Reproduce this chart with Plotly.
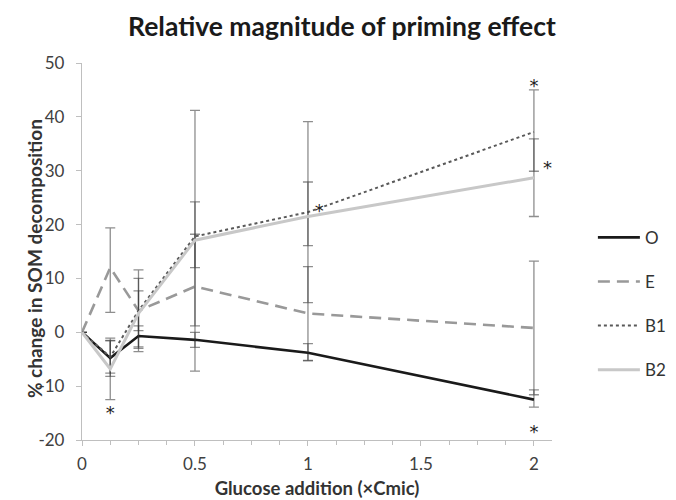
import plotly.graph_objects as go

# Data
x_vals = [0, 0.125, 0.25, 0.5, 1, 2]
series_names = ["O", "E", "B1", "B2"]
O_vals = [0, -4.8, -0.7, -1.4, -3.8, -12.5]
E_vals = [0, 12.0, 4.0, 8.5, 3.5, 0.8]
B1_vals = [0, -4.6, 4.0, 17.8, 22.3, 37.2]
B2_vals = [0, -6.8, 3.5, 17.1, 21.5, 28.7]

O_err_plus = [0, 3.3, 1.9, 1.4, 1.7, 1.8]
O_err_minus = [0, 3.4, 2.0, 1.4, 1.5, 1.4]
E_err_plus = [0, 7.4, 3.7, 15.7, 8.7, 12.4]
E_err_minus = [0, 8.3, 3.7, 15.7, 8.7, 12.4]
B1_err_plus = [0, 3.0, 7.6, 23.4, 16.8, 7.8]
B1_err_minus = [0, 3.0, 7.6, 5.8, 16.8, 7.3]
B2_err_plus = [0, 5.7, 6.5, 1.1, 6.4, 7.2]
B2_err_minus = [0, 5.7, 6.5, 15.9, 5.4, 7.2]

y_tickvals = [-20, -10, 0, 10, 20, 30, 40, 50]
y_ticktext = ["-20", "-10", "0", "10", "20", "30", "40", "50"]
x_tickvals = [0, 0.5, 1, 1.5, 2]
x_ticktext = ["0", "0.5", "1", "1.5", "2"]

# significance markers
star_x = [0.125, 1.05, 2.0, 2.06, 2.0]
star_y = [-15.2, 22.2, 45.5, 30.2, -18.8]

colors = ["#1a1a1a", "#999999", "#595959", "#c8c8c8"]
dashes = ["solid", "12px,7px", "dot", "solid"]
widths = [2.6, 2.6, 2.0, 3.0]
vals = [O_vals, E_vals, B1_vals, B2_vals]
eplus = [O_err_plus, E_err_plus, B1_err_plus, B2_err_plus]
eminus = [O_err_minus, E_err_minus, B1_err_minus, B2_err_minus]

fig = go.Figure()
for i, name in enumerate(series_names):
    fig.add_trace(go.Scatter(
        x=x_vals, y=vals[i], name=name, mode="lines",
        line=dict(color=colors[i], dash=dashes[i], width=widths[i]),
        error_y=dict(type="data", symmetric=False, array=eplus[i], arrayminus=eminus[i],
                     color="rgba(50,50,50,0.55)", thickness=1.3, width=5),
        legendgroup=name,
    ))

fig.add_trace(go.Scatter(
    x=star_x, y=star_y, mode="text", text=["*"] * len(star_x),
    textfont=dict(size=18, color="#222222", family="DejaVu Sans"),
    showlegend=False, hoverinfo="skip",
))

fig.update_layout(
    width=676, height=500,
    paper_bgcolor="white", plot_bgcolor="white",
    margin=dict(l=74, r=132, t=55, b=68),
    font=dict(family="Lato, Open Sans, sans-serif", color="#404040", size=16),
    title=dict(text="<b>Relative magnitude of priming effect</b>",
               x=0.494, xanchor="center", y=0.962, yanchor="middle",
               font=dict(size=26.5, color="#1a1a1a", family="Lato")),
    showlegend=True,
    legend=dict(x=1.087, xanchor="left", y=0.584, yanchor="top",
                traceorder="grouped", tracegroupgap=19, itemwidth=42,
                font=dict(size=17, color="#333333"),
                bgcolor="rgba(0,0,0,0)"),
    xaxis=dict(range=[0, 2.08], tickvals=x_tickvals, ticktext=x_ticktext,
               ticks="outside", ticklen=5, tickcolor="#bfbfbf",
               ticklabelstandoff=3,
               minor=dict(dtick=0.125, tick0=0, ticks="outside", ticklen=4, tickcolor="#bfbfbf"),
               showline=True, linecolor="#bfbfbf", linewidth=1.3,
               showgrid=False, zeroline=False, automargin=False,
               tickfont=dict(size=17, color="#404040"),
               title=dict(text="<b>Glucose addition (×Cmic)</b>", standoff=9,
                          font=dict(size=18.5, color="#333333"))),
    yaxis=dict(range=[-20, 50], tickvals=y_tickvals, ticktext=y_ticktext,
               ticks="outside", ticklen=5, tickcolor="#bfbfbf",
               ticklabelstandoff=8,
               showline=True, linecolor="#bfbfbf", linewidth=1.3,
               showgrid=False, zeroline=False, automargin=False,
               tickfont=dict(size=17, color="#404040")),
    annotations=[dict(text="<b>% change in SOM decomposition</b>", textangle=-90,
                      xref="paper", yref="paper", x=-0.102, y=0.48,
                      xanchor="center", yanchor="middle", showarrow=False,
                      font=dict(size=19, color="#333333"))],
)

fig.write_html("out.html")
